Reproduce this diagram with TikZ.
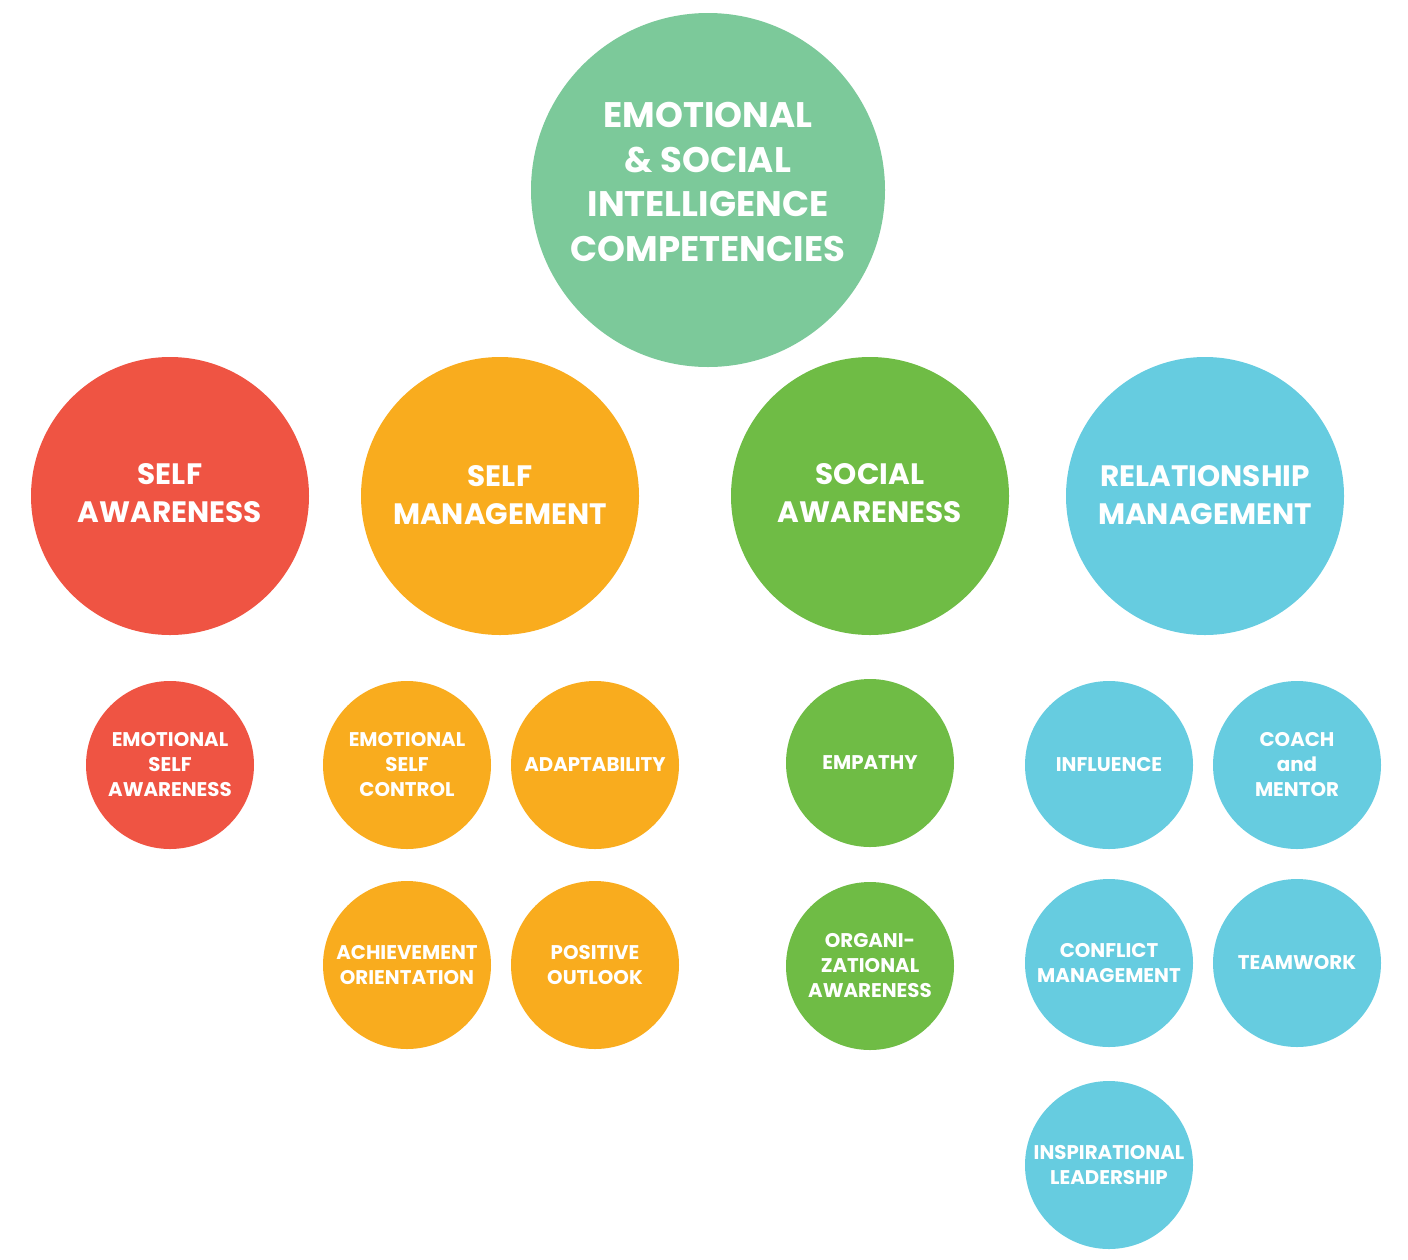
\documentclass[tikz,border=0pt]{standalone}
\usepackage{fontspec}
\setmainfont{Poppins}
\definecolor{topg}{HTML}{7CC99A}
\definecolor{redc}{HTML}{EF5443}
\definecolor{orac}{HTML}{F9AC1E}
\definecolor{grnc}{HTML}{6FBC45}
\definecolor{cyac}{HTML}{66CCE0}
\begin{document}
\begin{tikzpicture}[x=1pt,y=-1pt,
  bub/.style={circle,inner sep=0pt,text=white,align=center},
  big/.style={bub,minimum size=354pt},
  bigtext/.style={bub,font=\bfseries\fontsize{35.5}{44.5}\selectfont},
  cat/.style={bub,minimum size=278pt},
  cattext/.style={bub,font=\bfseries\fontsize{29.5}{37.5}\selectfont},
  sub/.style={bub,minimum size=168pt,font=\bfseries\fontsize{19.8}{25}\selectfont}]
\useasboundingbox (0,0) rectangle (1408,1259);
\node[big,fill=topg] (top) at (708,190) {};
\node[bigtext] (toptext) at (708,182) {EMOTIONAL\\\& SOCIAL\\INTELLIGENCE\\COMPETENCIES};
\node[cat,fill=redc] (sa) at (170,496) {};
\node[cat,fill=orac] (sm) at (500,496) {};
\node[cat,fill=grnc] (soa) at (870,496) {};
\node[cat,fill=cyac] (rm) at (1205,496) {};
\node[cattext] (sat) at (170,493) {SELF\\AWARENESS};
\node[cattext] (smt) at (500,495) {SELF\\MANAGEMENT};
\node[cattext] (soat) at (870,493) {SOCIAL\\AWARENESS};
\node[cattext] (rmt) at (1205,495) {RELATIONSHIP\\MANAGEMENT};
\node[sub,fill=redc] (esa) at (170,765) {EMOTIONAL\\SELF\\AWARENESS};
\node[sub,fill=orac] (esc) at (407,765) {EMOTIONAL\\SELF\\CONTROL};
\node[sub,fill=orac] (ad) at (595,765) {ADAPTABILITY};
\node[sub,fill=orac] (ao) at (407,965) {ACHIEVEMENT\\ORIENTATION};
\node[sub,fill=orac] (po) at (595,965) {POSITIVE\\OUTLOOK};
\node[sub,fill=grnc] (em) at (870,763) {EMPATHY};
\node[sub,fill=grnc] (oa) at (870,966) {ORGANI-\\ZATIONAL\\AWARENESS};
\node[sub,fill=cyac] (inf) at (1109,765) {INFLUENCE};
\node[sub,fill=cyac] (cm) at (1297,765) {COACH\\and\\MENTOR};
\node[sub,fill=cyac] (cfm) at (1109,963) {CONFLICT\\MANAGEMENT};
\node[sub,fill=cyac] (tw) at (1297,963) {TEAMWORK};
\node[sub,fill=cyac] (il) at (1109,1165) {INSPIRATIONAL\\LEADERSHIP};
\end{tikzpicture}
\end{document}
